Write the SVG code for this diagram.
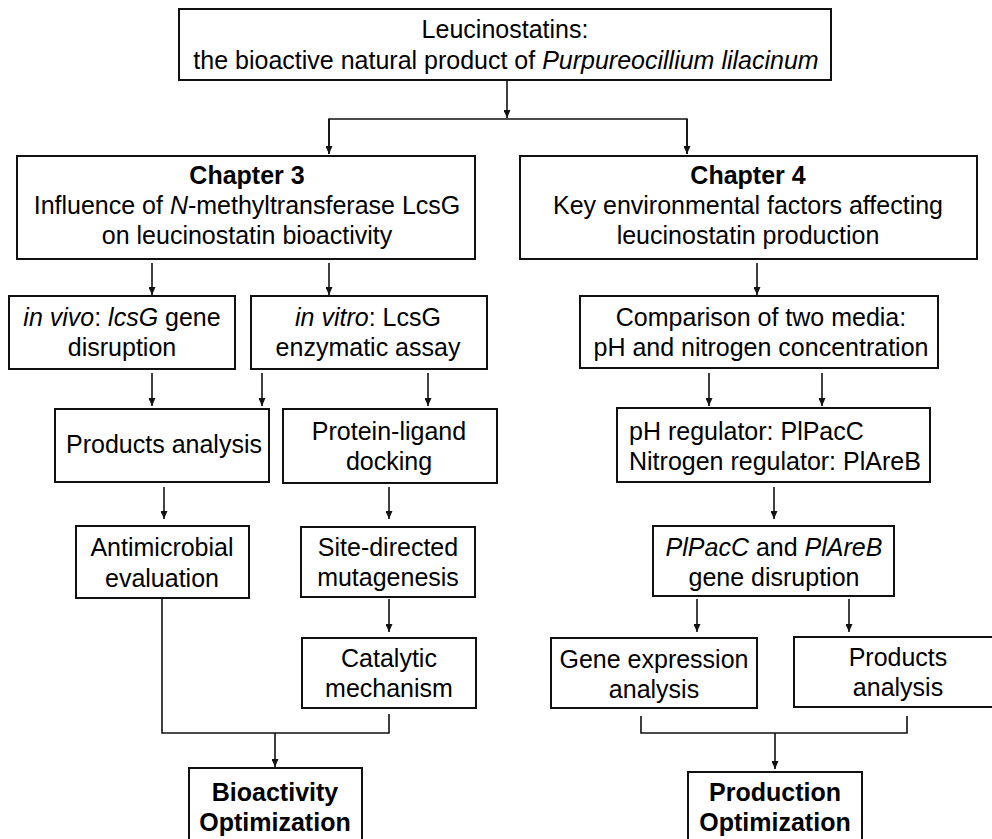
<svg xmlns="http://www.w3.org/2000/svg" width="992" height="839" viewBox="0 0 992 839">
<defs>
<style>
.box{fill:#fff;stroke:#111;stroke-width:2}
.t{font-family:"Liberation Sans",Arial,sans-serif;font-size:25px;fill:#000;text-anchor:middle}
.b{font-weight:bold}
.i{font-style:italic}
.c{fill:none;stroke:#111;stroke-width:1.6}
</style>
<marker id="ah" markerUnits="userSpaceOnUse" markerWidth="8" markerHeight="7" refX="8" refY="3.5" orient="auto">
<path d="M0,0 L8,3.5 L0,7 z" fill="#111"/>
</marker>
</defs>
<rect width="992" height="839" fill="#fff"/>

<g id="connectors">
<line class="c" x1="507" y1="80" x2="507" y2="118" marker-end="url(#ah)"/>
<polyline class="c" points="329,154 329,119 687,119 687,154"/>
<line class="c" x1="329" y1="119" x2="329" y2="154" marker-end="url(#ah)"/>
<line class="c" x1="687" y1="119" x2="687" y2="154" marker-end="url(#ah)"/>
<line class="c" x1="152" y1="263" x2="152" y2="295" marker-end="url(#ah)"/>
<line class="c" x1="329" y1="263" x2="329" y2="295" marker-end="url(#ah)"/>
<line class="c" x1="152" y1="373" x2="152" y2="406" marker-end="url(#ah)"/>
<line class="c" x1="262" y1="373" x2="262" y2="406" marker-end="url(#ah)"/>
<line class="c" x1="428" y1="373" x2="428" y2="406" marker-end="url(#ah)"/>
<line class="c" x1="164" y1="487" x2="164" y2="519" marker-end="url(#ah)"/>
<line class="c" x1="389" y1="487" x2="389" y2="519" marker-end="url(#ah)"/>
<line class="c" x1="389" y1="599" x2="389" y2="632" marker-end="url(#ah)"/>
<polyline class="c" points="162,598 162,733 389,733 389,714"/>
<line class="c" x1="275" y1="733" x2="275" y2="767" marker-end="url(#ah)"/>
<line class="c" x1="757" y1="263" x2="757" y2="295" marker-end="url(#ah)"/>
<line class="c" x1="709" y1="373" x2="709" y2="406" marker-end="url(#ah)"/>
<line class="c" x1="822" y1="373" x2="822" y2="406" marker-end="url(#ah)"/>
<line class="c" x1="774" y1="487" x2="774" y2="519" marker-end="url(#ah)"/>
<line class="c" x1="697" y1="599" x2="697" y2="632" marker-end="url(#ah)"/>
<line class="c" x1="849" y1="599" x2="849" y2="632" marker-end="url(#ah)"/>
<polyline class="c" points="641,716 641,733 907,733 907,716"/>
<line class="c" x1="775" y1="733" x2="775" y2="769" marker-end="url(#ah)"/>
</g>

<g id="top">
<rect class="box" x="179" y="9" width="652" height="71"/>
<text class="t" x="505" y="38">Leucinostatins:</text>
<text class="t" x="506" y="69">the bioactive natural product of <tspan class="i">Purpureocillium lilacinum</tspan></text>
</g>

<g id="chapter3">
<rect class="box" x="17" y="156" width="458" height="103"/>
<text class="t b" x="247" y="184">Chapter 3</text>
<text class="t" x="247" y="214">Influence of <tspan class="i">N</tspan>-methyltransferase LcsG</text>
<text class="t" x="247" y="244">on leucinostatin bioactivity</text>
</g>

<g id="chapter4">
<rect class="box" x="520" y="156" width="457" height="103"/>
<text class="t b" x="748" y="184">Chapter 4</text>
<text class="t" x="748" y="214">Key environmental factors affecting</text>
<text class="t" x="748" y="244">leucinostatin production</text>
</g>

<g id="invivo">
<rect class="box" x="9" y="296" width="226" height="73"/>
<text class="t" x="122" y="326"><tspan class="i">in vivo</tspan>: <tspan class="i">lcsG</tspan> gene</text>
<text class="t" x="122" y="356">disruption</text>
</g>

<g id="invitro">
<rect class="box" x="251" y="296" width="236" height="73"/>
<text class="t" x="368" y="326"><tspan class="i">in vitro</tspan>: LcsG</text>
<text class="t" x="368" y="356">enzymatic assay</text>
</g>

<g id="products-left">
<rect class="box" x="55" y="409" width="214" height="73"/>
<text class="t" x="164" y="453">Products analysis</text>
</g>

<g id="docking">
<rect class="box" x="283" y="409" width="214" height="74"/>
<text class="t" x="389" y="440">Protein-ligand</text>
<text class="t" x="389" y="470">docking</text>
</g>

<g id="antimicrobial">
<rect class="box" x="76" y="526" width="173" height="72"/>
<text class="t" x="162" y="556">Antimicrobial</text>
<text class="t" x="162" y="587">evaluation</text>
</g>

<g id="mutagenesis">
<rect class="box" x="301" y="527" width="174" height="70"/>
<text class="t" x="388" y="556">Site-directed</text>
<text class="t" x="388" y="586">mutagenesis</text>
</g>

<g id="catalytic">
<rect class="box" x="302" y="638" width="174" height="70"/>
<text class="t" x="389" y="667">Catalytic</text>
<text class="t" x="389" y="697">mechanism</text>
</g>

<g id="bioactivity">
<rect class="box" x="189" y="768" width="173" height="90"/>
<text class="t b" x="275" y="801">Bioactivity</text>
<text class="t b" x="275" y="831">Optimization</text>
</g>

<g id="comparison">
<rect class="box" x="580" y="296" width="358" height="72"/>
<text class="t" x="761" y="326">Comparison of two media:</text>
<text class="t" x="761" y="356">pH and nitrogen concentration</text>
</g>

<g id="regulators">
<rect class="box" x="617" y="408" width="313" height="74"/>
<text class="t" x="629" y="440" style="text-anchor:start">pH regulator: PlPacC</text>
<text class="t" x="629" y="470" style="text-anchor:start">Nitrogen regulator: PlAreB</text>
</g>

<g id="disruption">
<rect class="box" x="653" y="526" width="241" height="70"/>
<text class="t" x="774" y="556"><tspan class="i">PlPacC</tspan> and <tspan class="i">PlAreB</tspan></text>
<text class="t" x="774" y="586">gene disruption</text>
</g>

<g id="expression">
<rect class="box" x="551" y="638" width="206" height="70"/>
<text class="t" x="654" y="668">Gene expression</text>
<text class="t" x="654" y="698">analysis</text>
</g>

<g id="products-right">
<rect class="box" x="794" y="637" width="210" height="70"/>
<text class="t" x="898" y="666">Products</text>
<text class="t" x="898" y="696">analysis</text>
</g>

<g id="production">
<rect class="box" x="688" y="772" width="174" height="90"/>
<text class="t b" x="775" y="801">Production</text>
<text class="t b" x="775" y="831">Optimization</text>
</g>
</svg>
